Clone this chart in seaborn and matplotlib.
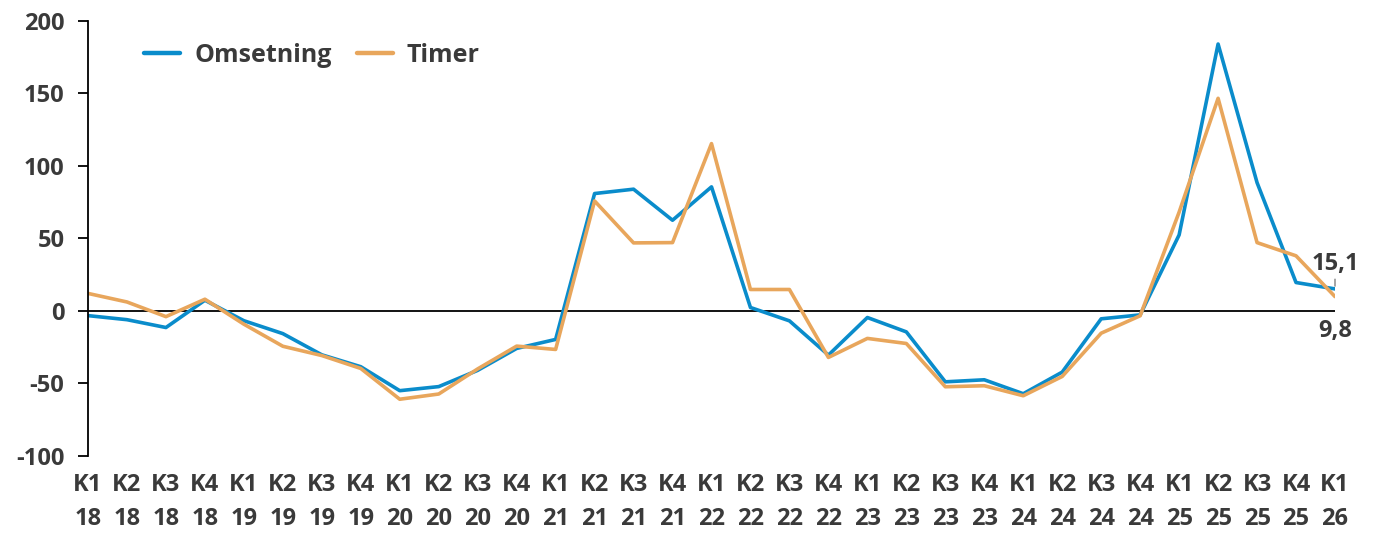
import matplotlib
matplotlib.use("Agg")
import matplotlib.pyplot as plt
import seaborn as sns
import pandas as pd
import numpy as np

quarters = ["K1", "K2", "K3", "K4"]
years = ["18", "19", "20", "21", "22", "23", "24", "25", "26"]
tick_labels = [f"{q}\n{y}" for y in years for q in quarters][:33]

omsetning = [-3.3, -6.1, -11.5, 7.3, -6.8, -15.7, -30.3, -38.5, -55.0, -52.2,
             -41.0, -25.9, -19.7, 80.8, 83.8, 62.4, 85.4, 2.3, -6.9, -30.5,
             -4.6, -14.5, -48.9, -47.5, -57.1, -42.2, -5.5, -2.8, 52.3, 183.8,
             88.3, 19.5, 15.1]
timer = [12.0, 6.1, -4.0, 8.0, -9.2, -24.4, -30.8, -39.7, -60.9, -57.3,
         -40.0, -24.3, -26.6, 75.7, 46.8, 47.0, 115.2, 14.7, 14.7, -32.1,
         -19.0, -22.5, -52.3, -51.6, -58.5, -45.2, -15.4, -3.4, 68.0, 146.4,
         47.0, 37.9, 9.8]
series_names = ["Omsetning", "Timer"]
colors = ["#0A8CCB", "#E8A65C"]

n = len(omsetning)
df = pd.DataFrame({
    "idx": list(range(n)) * 2,
    "value": omsetning + timer,
    "serie": [series_names[0]] * n + [series_names[1]] * n,
})

sns.set_style("white")
plt.rcParams["font.family"] = ["Open Sans", "DejaVu Sans"]
plt.rcParams["font.weight"] = "bold"
plt.rcParams["axes.unicode_minus"] = False
text_color = "#3A3A3A"

fig = plt.figure(figsize=(13.73, 5.35), dpi=100)
ax = fig.add_axes([88 / 1373, 1 - 456 / 535, (1335 - 88) / 1373, (456 - 20.5) / 535])

sns.lineplot(data=df, x="idx", y="value", hue="serie", palette=colors,
             linewidth=2.6, ax=ax, legend=True)

ax.axhline(0, color="black", linewidth=1.3, zorder=1)

ax.set_xlim(0, n - 1)
ax.set_ylim(-100, 200)
ax.set_yticks([-100, -50, 0, 50, 100, 150, 200])
ax.set_xticks(range(n))
ax.set_xticklabels(tick_labels, linespacing=1.6)
ax.set_xlabel("")
ax.set_ylabel("")

for s in ["top", "right", "bottom"]:
    ax.spines[s].set_visible(False)
ax.spines["left"].set_color("black")
ax.spines["left"].set_linewidth(1.3)

ax.tick_params(axis="y", direction="out", length=7, width=1.3, color="black",
               labelsize=17, labelcolor=text_color, pad=10, left=True)
ax.tick_params(axis="x", length=0, labelsize=17, labelcolor=text_color, pad=12)
for lab in ax.get_xticklabels() + ax.get_yticklabels():
    lab.set_fontweight("bold")

leg = ax.legend(loc="upper left", bbox_to_anchor=(0.027, 1.0), frameon=False,
                ncol=2, handlelength=1.45, handletextpad=0.55, columnspacing=1.0,
                prop={"size": 18, "weight": "bold"})
for t in leg.get_texts():
    t.set_color(text_color)
for l in leg.get_lines():
    l.set_linewidth(3.2)

ax.annotate(f"{omsetning[-1]:.1f}".replace(".", ","), xy=(n - 1, omsetning[-1]),
            xytext=(0, 18), textcoords="offset points", ha="center", va="center",
            fontsize=17, fontweight="bold", color=text_color,
            arrowprops=dict(arrowstyle="-", color="#808080", lw=1,
                            shrinkA=8, shrinkB=2), annotation_clip=False)
ax.annotate(f"{timer[-1]:.1f}".replace(".", ","), xy=(n - 1, timer[-1]),
            xytext=(0, -25), textcoords="offset points", ha="center", va="center",
            fontsize=17, fontweight="bold", color=text_color, annotation_clip=False)

fig.savefig("out.png", dpi=100)
